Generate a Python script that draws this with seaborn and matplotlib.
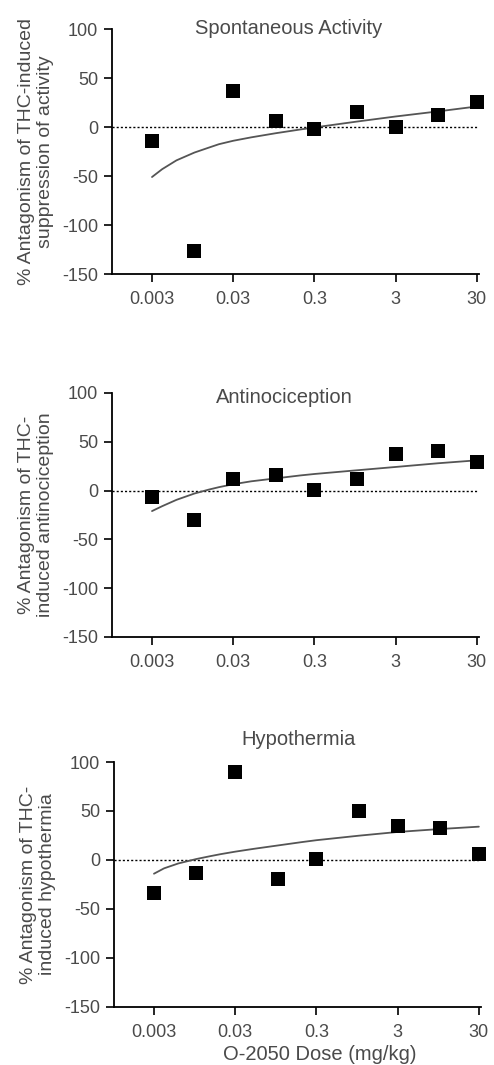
import pandas as pd
import seaborn as sns
import matplotlib.pyplot as plt
from matplotlib.ticker import FixedLocator, FixedFormatter, NullLocator

# ---------------------------
# Data
# ---------------------------
doses = [0.003, 0.01, 0.03, 0.1, 0.3, 1, 3, 10, 30]
tick_doses = [0.003, 0.03, 0.3, 3, 30]
tick_labels = ["0.003", "0.03", "0.3", "3", "30"]

activity = [-14, -127, 37, 6, -2, 15, 0, 12, 26]
antinociception = [-7, -30, 12, 16, 1, 12, 37, 41, 29]
hypothermia = [-34, -13, 90, -19, 1, 50, 35, 33, 6]

# fitted curves, read at these doses
fit_doses = [0.003, 0.004, 0.006, 0.01, 0.015, 0.02, 0.03, 0.05, 0.1, 0.2, 0.3, 1, 3, 10, 30]
activity_fit = [-51, -43, -34, -26, -21, -17.5, -14, -10.5, -6.3, -2.5, -0.4, 5.6, 10.8, 16, 21]
antinociception_fit = [-21, -16, -9.5, -3, 1, 3.5, 6.5, 9.5, 12.5, 15.5, 17, 20.8, 24.2, 28, 31]
hypothermia_fit = [-14, -8.5, -3.5, 1, 4, 6, 8.5, 11.3, 14.8, 18.3, 20.2, 24.8, 28.6, 31.6, 34]

titles = ["Spontaneous Activity", "Antinociception", "Hypothermia"]
ylabels = ["% Antagonism of THC-induced\nsuppression of activity",
           "% Antagonism of THC-\ninduced antinociception",
           "% Antagonism of THC-\ninduced hypothermia"]
xlabel = "O-2050 Dose (mg/kg)"

# ---------------------------
# Style
# ---------------------------
sns.set_style("ticks")
plt.rcParams["font.family"] = ["Liberation Sans", "DejaVu Sans"]
plt.rcParams["axes.unicode_minus"] = False
text_col = "#4a4a4a"

fig = plt.figure(figsize=(4.94, 10.65), dpi=100)

# axes boxes [left, bottom, width, height] in figure fractions
boxes = [[0.2267, 0.7427, 0.7430, 0.2300],
         [0.2267, 0.4019, 0.7430, 0.2291],
         [0.2307, 0.0545, 0.7430, 0.2300]]
title_pos = [(0.48, 1.004), (0.469, 0.98), (0.504, 1.09)]

panels = [(activity, activity_fit), (antinociception, antinociception_fit),
          (hypothermia, hypothermia_fit)]

for i, ((vals, fit), box) in enumerate(zip(panels, boxes)):
    ax = fig.add_axes(box)
    pts = pd.DataFrame({"dose": doses, "value": vals})
    curve = pd.DataFrame({"dose": fit_doses, "fit": fit})

    ax.axhline(0, color="black", lw=1.0, ls=(0, (1.5, 1.5)), zorder=1)
    sns.lineplot(data=curve, x="dose", y="fit", color="#555555", lw=1.3, ax=ax, zorder=2)
    sns.scatterplot(data=pts, x="dose", y="value", marker="s", s=90, color="black",
                    linewidth=0, ax=ax, zorder=3, clip_on=False)

    ax.set_xscale("log")
    ax.set_xlim(0.000965, 31.9)
    ax.set_ylim(-150, 100)
    ax.set_yticks([-150, -100, -50, 0, 50, 100])
    ax.xaxis.set_major_locator(FixedLocator(tick_doses))
    ax.xaxis.set_major_formatter(FixedFormatter(tick_labels))
    ax.xaxis.set_minor_locator(NullLocator())

    ax.tick_params(axis="both", length=6, width=1.2, color="black",
                   labelsize=13, labelcolor=text_col, pad=4)
    ax.tick_params(axis="x", pad=6)
    for sp in ["left", "bottom"]:
        ax.spines[sp].set_linewidth(1.3)
        ax.spines[sp].set_color("black")
    sns.despine(ax=ax)

    ax.set_ylabel(ylabels[i], fontsize=14, color=text_col, linespacing=1.15)
    ax.yaxis.set_label_coords(-0.158, 0.5)
    ax.text(title_pos[i][0], title_pos[i][1], titles[i], transform=ax.transAxes,
            ha="center", va="center", fontsize=14.5, color=text_col)

    if i == 2:
        ax.set_xlabel(xlabel, fontsize=14.5, color=text_col)
        ax.xaxis.set_label_coords(0.561, -0.155)
    else:
        ax.set_xlabel("")

plt.savefig("out.png", dpi=100)
